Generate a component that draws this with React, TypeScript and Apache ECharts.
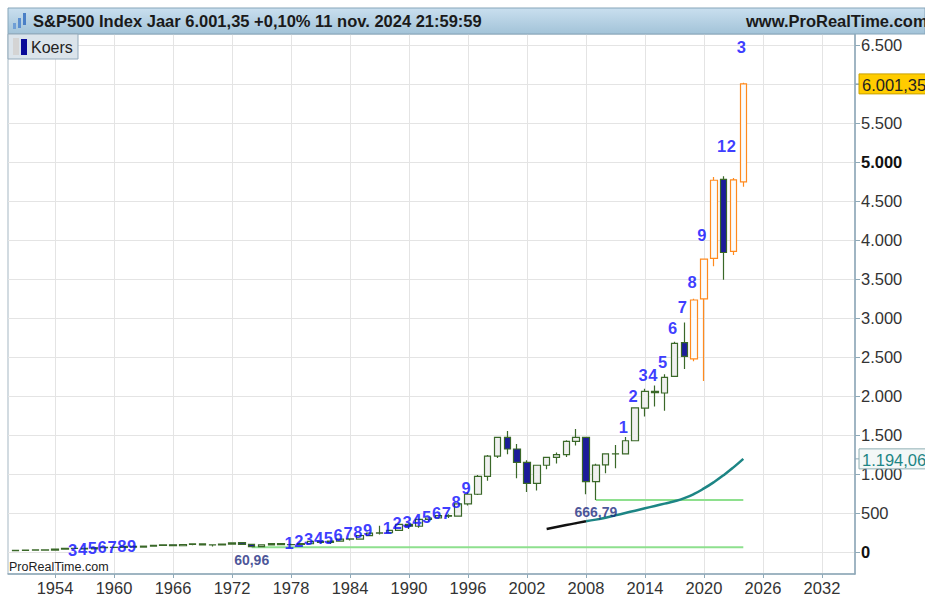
import React, { useEffect, useRef } from "react";
import * as echarts from "echarts";

const FONT = '"Liberation Sans", Arial, Helvetica, sans-serif';

// ---- Yearly candles (S&P500) ----
const years = [
  1950, 1951, 1952, 1953, 1954, 1955, 1956, 1957, 1958, 1959,
  1960, 1961, 1962, 1963, 1964, 1965, 1966, 1967, 1968, 1969,
  1970, 1971, 1972, 1973, 1974, 1975, 1976, 1977, 1978, 1979,
  1980, 1981, 1982, 1983, 1984, 1985, 1986, 1987, 1988, 1989,
  1990, 1991, 1992, 1993, 1994, 1995, 1996, 1997, 1998, 1999,
  2000, 2001, 2002, 2003, 2004, 2005, 2006, 2007, 2008, 2009,
  2010, 2011, 2012, 2013, 2014, 2015, 2016, 2017, 2018, 2019,
  2020, 2021, 2022, 2023, 2024,
];
const opens = [
  16.66, 20.77, 23.8, 26.54, 24.93, 36.75, 45.16, 46.2, 40.33, 55.44,
  59.91, 57.57, 71.55, 62.69, 75.43, 84.23, 92.18, 80.38, 96.11, 103.93,
  92.68, 91.15, 101.67, 119.1, 97.68, 70.23, 90.9, 107.0, 93.82, 96.73,
  105.76, 136.34, 122.74, 138.34, 164.04, 165.37, 209.59, 242.17, 247.08, 277.72,
  353.4, 330.22, 417.03, 435.7, 466.51, 459.11, 615.93, 740.74, 970.43, 1229.23,
  1469.25, 1320.28, 1148.08, 879.82, 1111.92, 1211.92, 1248.29, 1418.3, 1468.36, 903.25,
  1116.56, 1257.62, 1258.86, 1426.19, 1845.86, 2058.9, 2038.2, 2251.57, 2683.73, 2476.96,
  3244.67, 3764.61, 4778.14, 3853.29, 4745.2,
];
const highs = [
  20.43, 23.85, 26.59, 26.66, 35.98, 46.41, 49.74, 49.13, 55.21, 60.71,
  60.39, 72.64, 71.55, 75.02, 86.28, 92.63, 94.06, 97.59, 108.37, 106.16,
  93.46, 104.77, 119.12, 120.24, 99.8, 95.61, 107.83, 107.0, 106.99, 111.27,
  140.52, 138.12, 143.02, 172.65, 170.41, 212.02, 254.0, 336.77, 283.66, 360.44,
  369.78, 418.32, 442.65, 471.29, 482.85, 622.88, 761.75, 986.25, 1244.93, 1473.1,
  1552.87, 1383.37, 1176.97, 1112.56, 1217.9, 1275.8, 1431.81, 1576.09, 1471.77, 1130.38,
  1262.6, 1370.58, 1474.51, 1849.44, 2093.55, 2134.72, 2277.53, 2694.97, 2940.91, 3247.93,
  3760.2, 4808.93, 4818.62, 4793.3, 6017.0,
];
const lows = [
  16.65, 20.69, 23.09, 22.71, 24.8, 34.58, 43.11, 38.98, 40.33, 53.58,
  52.3, 57.57, 52.32, 62.69, 75.43, 81.6, 73.2, 80.38, 87.72, 89.2,
  69.29, 90.16, 101.67, 92.16, 60.96, 70.04, 90.9, 90.71, 86.9, 96.13,
  98.22, 112.77, 102.42, 138.34, 147.82, 163.36, 203.49, 223.92, 242.63, 275.31,
  294.51, 309.35, 392.41, 426.88, 435.86, 457.2, 597.29, 729.55, 912.83, 1205.46,
  1254.07, 944.75, 768.63, 788.9, 1060.72, 1136.22, 1219.29, 1363.98, 741.02, 666.79,
  1010.91, 1074.77, 1258.86, 1426.19, 1737.92, 1867.01, 1810.1, 2245.13, 2346.58, 2443.96,
  2191.86, 3662.71, 3491.58, 3808.86, 4682.11,
];
const closes = [
  20.41, 23.77, 26.57, 24.81, 35.98, 45.48, 46.67, 39.99, 55.21, 59.89,
  58.11, 71.55, 63.1, 75.02, 84.75, 92.43, 80.33, 96.47, 103.86, 92.06,
  92.15, 102.09, 118.05, 97.55, 68.56, 90.19, 107.46, 95.1, 96.11, 107.94,
  135.76, 122.55, 140.64, 164.93, 167.24, 211.28, 242.17, 247.08, 277.72, 353.4,
  330.22, 417.09, 435.71, 466.45, 459.27, 615.93, 740.74, 970.43, 1229.23, 1469.25,
  1320.28, 1148.08, 879.82, 1111.92, 1211.92, 1248.29, 1418.3, 1468.36, 903.25, 1115.1,
  1257.64, 1257.6, 1426.19, 1848.36, 2058.9, 2043.94, 2238.83, 2673.61, 2506.85, 3230.78,
  3756.07, 4766.18, 3839.5, 4769.83, 6001.35,
];
const orangeYears = [2019, 2020, 2021, 2023, 2024];

// ---- Axis ticks ----
const xTickYears = [1954, 1960, 1966, 1972, 1978, 1984, 1990, 1996, 2002, 2008, 2014, 2020, 2026, 2032];
const yTickValues = [0, 500, 1000, 1500, 2000, 2500, 3000, 3500, 4000, 4500, 5000, 5500, 6000, 6500];
// 6.000 is hidden under the last-price box in the reference
const yLabelValues = [0, 500, 1000, 1500, 2000, 2500, 3000, 3500, 4000, 4500, 5000, 5500, 6500];
const boldTickValues = [0, 5000];

// ---- Count labels (blue digits) ----
const countYears = [
  1956, 1957, 1958, 1959, 1960, 1961, 1962,
  1978, 1979, 1980, 1981, 1982, 1983, 1984, 1985, 1986,
  1988, 1989, 1990, 1991, 1992, 1993, 1994, 1995, 1996,
  2012, 2013, 2014, 2015, 2016, 2017, 2018, 2019, 2020,
  2022, 2023, 2024,
];
const countTexts = [
  "3", "4", "5", "6", "7", "8", "9",
  "1", "2", "3", "4", "5", "6", "7", "8", "9",
  "1", "2", "3", "4", "5", "6", "7", "8", "9",
  "1", "2", "3", "4", "5", "6", "7", "8", "9",
  "1", "2", "3",
];
const countValues = [
  26, 38, 51, 64, 64, 77, 77,
  115, 141, 167, 179, 179, 218, 244, 256, 282,
  308, 372, 385, 410, 449, 500, 500, 641, 820,
  1603, 2000, 2269, 2269, 2436, 2872, 3141, 3462, 4064,
  5205, 5205, 6474,
];

// ---- Long-term average curve ----
const maYears = [2004, 2005, 2006, 2007, 2008, 2009, 2010, 2011, 2012, 2013, 2014, 2015, 2016, 2017, 2018, 2019, 2020, 2021, 2022, 2023, 2024];
const maValues = [295, 320, 345, 370, 395, 415, 440, 470, 500, 530, 560, 590, 620, 650, 690, 745, 815, 895, 985, 1085, 1194.06];
const maBlackUntil = 2008;

// ---- Support lines ----
const supportFrom = [1974, 2009];
const supportTo = [2024, 2024];
const supportValues = [60.96, 666.79];

const lastClose = 6001.35;
const lastMa = 1194.06;

function fmtNL(v: number, dec = 0): string {
  const s = v.toFixed(dec);
  const [i, f] = s.split(".");
  const ii = i.replace(/\B(?=(\d{3})+(?!\d))/g, ".");
  return f ? ii + "," + f : ii;
}

export default function App() {
  const ref = useRef<HTMLDivElement>(null);

  useEffect(() => {
    document.body.style.margin = "0";
    if (!ref.current) return;
    const chart = echarts.init(ref.current, null, { renderer: "svg" });

    const green = "#3a6828";
    const orange = "#ff8a1e";
    const candleData = years.map((y, i) => {
      const item: any = { value: [y, opens[i], closes[i], lows[i], highs[i]] };
      if (orangeYears.includes(y)) {
        item.itemStyle = { color: "#fbfbfb", color0: "#fbfbfb", borderColor: orange, borderColor0: orange };
      }
      return item;
    });

    const maBlack = maYears.map((y, i) => [y, maValues[i]]).filter((p) => p[0] <= maBlackUntil);
    const maTeal = maYears.map((y, i) => [y, maValues[i]]).filter((p) => p[0] >= maBlackUntil);

    const axisColor = "#8fa9b8";

    const option: any = {
      animation: false,
      backgroundColor: "#ffffff",
      grid: {
        left: 8, top: 34, right: 70, bottom: 22,
        show: true, borderColor: "#a5b7c3", borderWidth: 1, backgroundColor: "#ffffff",
      },
      xAxis: {
        type: "value",
        min: 1949.22,
        max: 2035.36,
        axisLine: { show: true, onZero: false, lineStyle: { color: axisColor, width: 1.5 } },
        axisTick: { show: true, customValues: xTickYears, length: 4, lineStyle: { color: axisColor } },
        axisLabel: {
          customValues: xTickYears,
          fontSize: 16.5,
          color: "#333",
          fontFamily: FONT,
          margin: 5,
          formatter: (v: number) => String(v),
        },
        splitLine: { show: true, lineStyle: { color: "#e4e4e4", width: 1 } },
      },
      yAxis: {
        type: "value",
        position: "right",
        min: -282,
        max: 6641,
        axisLine: { show: true, onZero: false, lineStyle: { color: axisColor, width: 1.5 } },
        axisTick: { show: true, customValues: yTickValues, length: 5, lineStyle: { color: axisColor } },
        axisLabel: {
          customValues: yLabelValues,
          fontSize: 16.5,
          color: "#333",
          fontFamily: FONT,
          margin: 6,
          formatter: (v: number) => (boldTickValues.includes(v) ? "{b|" + fmtNL(v) + "}" : fmtNL(v)),
          rich: { b: { fontWeight: "bold", color: "#111", fontSize: 16.5, fontFamily: FONT } },
        },
        splitLine: { show: true, lineStyle: { color: "#e4e4e4", width: 1 } },
      },
      series: [
        ...supportValues.map((v, i) => ({
          type: "line",
          data: [[supportFrom[i], v], [supportTo[i], v]],
          symbol: "none",
          lineStyle: { color: "#8ee08e", width: 2 },
          z: 2,
          silent: true,
        })),
        {
          type: "candlestick",
          name: "Koers",
          data: candleData,
          encode: { x: 0, y: [1, 2, 3, 4] },
          barWidth: 7,
          itemStyle: {
            color: "#f0f0f0",
            color0: "#1c1c9a",
            borderColor: green,
            borderColor0: green,
            borderWidth: 1.2,
          },
          z: 3,
        },
        {
          type: "line",
          data: maBlack,
          smooth: true,
          symbol: "none",
          lineStyle: { color: "#111111", width: 2.5 },
          z: 4,
        },
        {
          type: "line",
          data: maTeal,
          smooth: true,
          symbol: "none",
          lineStyle: { color: "#1d8585", width: 2.5 },
          z: 4,
        },
        {
          type: "scatter",
          data: countYears.map((y, i) => [y, countValues[i], countTexts[i]]),
          symbolSize: 1,
          itemStyle: { color: "rgba(0,0,0,0)" },
          clip: false,
          z: 6,
          label: {
            show: true,
            position: "inside",
            offset: [-2, 0],
            formatter: (p: any) => p.value[2],
            fontSize: 16.5,
            fontWeight: "bold",
            color: "#0a0aff",
            fontFamily: FONT,
          },
        },
        {
          type: "scatter",
          data: supportFrom.map((y, i) => [y, supportValues[i], fmtNL(supportValues[i], 2)]),
          symbolSize: 1,
          itemStyle: { color: "rgba(0,0,0,0)" },
          clip: false,
          z: 6,
          label: {
            show: true,
            position: "bottom",
            distance: 5,
            formatter: (p: any) => p.value[2],
            fontSize: 14,
            fontWeight: "bold",
            color: "#1b2a7e",
            fontFamily: FONT,
          },
        },
      ],
    };

    chart.setOption(option);

    const yClose = chart.convertToPixel({ gridIndex: 0 }, [2030, lastClose])[1];
    const yMa = chart.convertToPixel({ gridIndex: 0 }, [2030, lastMa])[1];

    const graphic: any[] = [
      // header bar
      {
        type: "rect",
        shape: { x: 8, y: 8, width: 917, height: 26 },
        style: {
          fill: new echarts.graphic.LinearGradient(0, 0, 0, 1, [
            { offset: 0, color: "#c9dfef" },
            { offset: 1, color: "#a2c3d8" },
          ]),
          stroke: "#86a5b9",
          lineWidth: 1,
        },
        z: 10,
      },
      // header icon
      { type: "rect", shape: { x: 13, y: 23, width: 3, height: 6 }, style: { fill: "#6f9fd6" }, z: 11 },
      { type: "rect", shape: { x: 18, y: 18, width: 3, height: 10 }, style: { fill: "#5b8fd0" }, z: 11 },
      { type: "rect", shape: { x: 23, y: 13, width: 3, height: 12 }, style: { fill: "#4a7fc6" }, z: 11 },
      {
        type: "text",
        style: {
          text: "S&P500 Index Jaar 6.001,35 +0,10% 11 nov. 2024 21:59:59",
          x: 33, y: 21,
          fill: "#1a1a1a",
          font: 'bold 16.5px "Liberation Sans", Arial, sans-serif',
          textVerticalAlign: "middle",
        },
        z: 11,
      },
      {
        type: "text",
        style: {
          text: "www.ProRealTime.com",
          x: 746, y: 21,
          fill: "#1a1a1a",
          font: 'bold 16.5px "Liberation Sans", Arial, sans-serif',
          textVerticalAlign: "middle",
        },
        z: 11,
      },
      // legend
      {
        type: "rect",
        shape: { x: 8, y: 34, width: 70, height: 25 },
        style: { fill: "#dbe4eb", stroke: "#93aabb", lineWidth: 1 },
        z: 10,
      },
      { type: "rect", shape: { x: 13, y: 38, width: 6, height: 17 }, style: { fill: "#d4d4d4" }, z: 11 },
      { type: "rect", shape: { x: 21, y: 39, width: 6, height: 16 }, style: { fill: "#0a0a99" }, z: 11 },
      {
        type: "text",
        style: {
          text: "Koers", x: 31, y: 47, fill: "#222",
          font: '16px "Liberation Sans", Arial, sans-serif',
          textVerticalAlign: "middle",
        },
        z: 11,
      },
      // watermark
      {
        type: "text",
        style: {
          text: "ProRealTime.com", x: 9, y: 567, fill: "#222",
          font: '12.5px "Liberation Sans", Arial, sans-serif',
          textVerticalAlign: "middle",
        },
        z: 11,
      },
      // last close box
      { type: "line", shape: { x1: 855, y1: yClose, x2: 860, y2: yClose }, style: { stroke: axisColor, lineWidth: 1 }, z: 11 },
      {
        type: "rect",
        shape: { x: 859, y: yClose - 10, width: 80, height: 20 },
        style: { fill: "#ffcc00", stroke: "#c9a200", lineWidth: 1 },
        z: 11,
      },
      {
        type: "text",
        style: {
          text: fmtNL(lastClose, 2), x: 862, y: yClose + 1, fill: "#222",
          font: '16.5px "Liberation Sans", Arial, sans-serif',
          textVerticalAlign: "middle",
        },
        z: 12,
      },
      // MA box
      { type: "line", shape: { x1: 855, y1: yMa, x2: 860, y2: yMa }, style: { stroke: axisColor, lineWidth: 1 }, z: 11 },
      {
        type: "rect",
        shape: { x: 859, y: yMa - 10, width: 80, height: 20 },
        style: { fill: "#f3f7f7", stroke: "#8fb0b4", lineWidth: 1 },
        z: 11,
      },
      {
        type: "text",
        style: {
          text: fmtNL(lastMa, 2), x: 862, y: yMa + 1, fill: "#1d8585",
          font: '16.5px "Liberation Sans", Arial, sans-serif',
          textVerticalAlign: "middle",
        },
        z: 12,
      },
    ];

    chart.setOption({ graphic });

    return () => {
      chart.dispose();
    };
  }, []);

  return <div ref={ref} style={{ width: 925, height: 596 }} />;
}
